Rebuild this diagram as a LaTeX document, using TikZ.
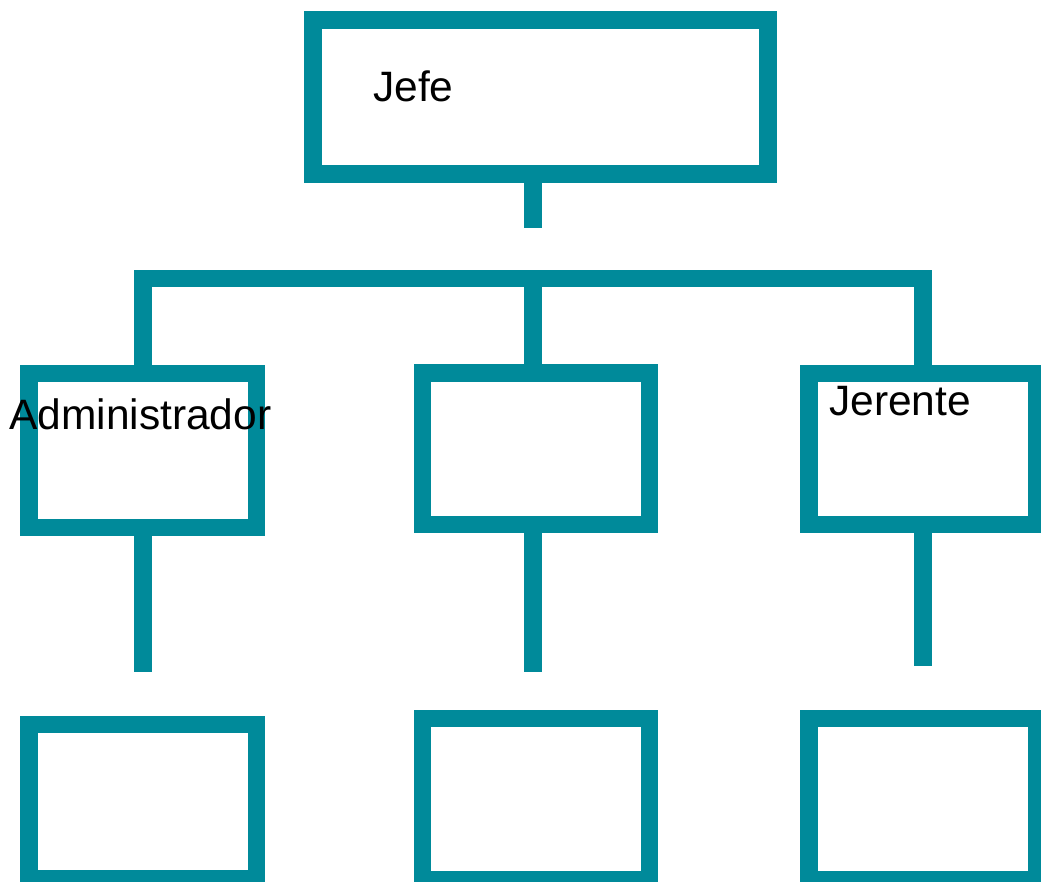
\documentclass[tikz,border=0pt]{standalone}
\usepackage{fontspec}
\setmainfont{Liberation Sans}
\definecolor{teal1}{RGB}{0,138,154}
\begin{document}
\begin{tikzpicture}[x=1pt,y=-1pt,
  box/.style={draw=teal1,line width=17.5pt,rectangle,inner sep=0pt,fill=white},
  conn/.style={draw=teal1,line width=17.5pt,line join=miter},
  lbl/.style={anchor=base west,inner sep=0pt,font=\fontsize{42.5}{50}\selectfont}]
\useasboundingbox (0,0) rectangle (1041,881);
\clip (0,0) rectangle (1041,881);
% boxes
\node[box,minimum width=454.6pt,minimum height=154.4pt] (top) at (540.5,97) {};
\node[box,minimum width=227.1pt,minimum height=154.2pt] (l1) at (142.75,450.6) {};
\node[box,minimum width=227pt,minimum height=151.9pt] (m1) at (536,448.7) {};
\node[box,minimum width=227.1pt,minimum height=151.4pt] (r1) at (922.75,449) {};
\node[box,minimum width=227.1pt,minimum height=154.4pt] (l2) at (142.75,801.5) {};
\node[box,minimum width=227pt,minimum height=161.4pt] (m2) at (536,799) {};
\node[box,minimum width=227.1pt,minimum height=161.4pt] (r2) at (922.75,799) {};
% coordinates
\coordinate (c0) at (533,227.7);
\coordinate (bl) at (143,278.7);
\coordinate (bm) at (533,278.7);
\coordinate (br) at (923,278.7);
\coordinate (e1) at (143,671.5);
\coordinate (e2) at (533,672);
\coordinate (e3) at (923,666);
% connectors
\draw[conn] (c0 |- top.south) -- (c0);
\draw[conn] (bl |- l1.north) -- (bl) -- (br) -- (br |- r1.north);
\draw[conn] (bm) -- (bm |- m1.north);
\draw[conn] (e1 |- l1.south) -- (e1);
\draw[conn] (e2 |- m1.south) -- (e2);
\draw[conn] (e3 |- r1.south) -- (e3);
% labels
\node[lbl] (tj) at (373,101.7) {Jefe};
\node[lbl] (ta) at (9,429) {Administrador};
\node[lbl] (tg) at (829,415.7) {Jerente};
\end{tikzpicture}
\end{document}
